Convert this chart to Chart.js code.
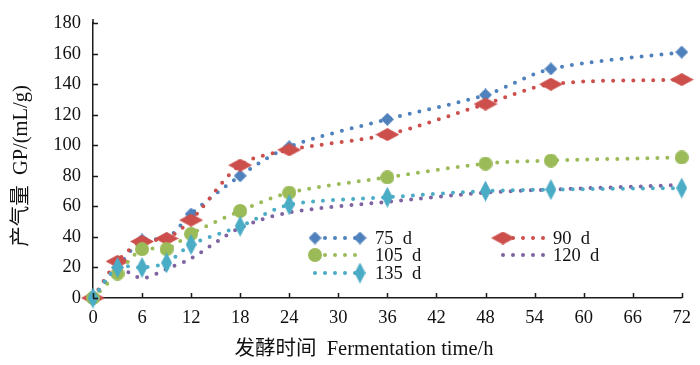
<!DOCTYPE html>
<html>
<head>
<meta charset="utf-8">
<script src="https://cdn.jsdelivr.net/npm/chart.js@4"></script>
<style>
  html, body { margin: 0; padding: 0; background: #fff; }
  #box { width: 700px; height: 365px; }
</style>
</head>
<body>
<div id="box"><canvas id="chart"></canvas></div>
<script>
// Sampling times (h) and cumulative gas production GP (mL/g)
const hours = [ 0, 3, 6, 9, 12, 18, 24, 36, 48, 56, 72 ];
const gp75 = [ 0, 20, 38, 39, 55, 80, 99, 117, 133, 150, 161 ];
const gp90 = [ 0, 24, 37, 39, 51, 87, 97, 107, 127, 140, 143 ];
const gp105 = [ 0, 16, 32, 32, 42, 57, 69, 79, 88, 90, 92 ];
const gp120 = [ 0, 19, 13, 19, 26, 46, 56, 63, 69, 71, 74 ];
const gp135 = [ 0, 20, 20, 23, 35, 47, 61, 66, 70, 71, 72 ];

const xTicks = [ 0, 6, 12, 18, 24, 30, 36, 42, 48, 54, 60, 66, 72 ];
const yTicks = [ 0, 20, 40, 60, 80, 100, 120, 140, 160, 180 ];

const BLUE = "#4f81bd";
const RED = "#cc4f4c";
const GREEN = "#9bbb59";
const PURPLE = "#8064a2";
const CYAN = "#4bacc6";

const SERIF = '"Liberation Serif", "Noto Sans CJK SC", serif';

function makeDiamond( w, h, color ) {
  let c = document.createElement( "canvas" );
  c.width = w;
  c.height = h;
  let ctx = c.getContext( "2d" );
  ctx.fillStyle = color;
  ctx.beginPath();
  ctx.moveTo( w / 2, 0 );
  ctx.lineTo( w, h / 2 );
  ctx.lineTo( w / 2, h );
  ctx.lineTo( 0, h / 2 );
  ctx.closePath();
  ctx.fill();
  return c;
}

function makeCircle( d, color ) {
  let c = document.createElement( "canvas" );
  c.width = d;
  c.height = d;
  let ctx = c.getContext( "2d" );
  ctx.fillStyle = color;
  ctx.beginPath();
  ctx.arc( d / 2, d / 2, d / 2, 0, Math.PI * 2 );
  ctx.fill();
  return c;
}

const blueMark = makeDiamond( 13, 13, BLUE );
const redMark = makeDiamond( 24, 13, RED );
const greenMark = makeCircle( 14, GREEN );
const cyanMark = makeDiamond( 11, 21, CYAN );

function series( label, values, color, mark, order ) {
  return {
    label: label,
    data: hours.map( ( h, i ) => ( { x: h, y: values[ i ] } ) ),
    borderColor: color,
    backgroundColor: color,
    borderWidth: 4,
    borderDash: [ 0, 10 ],
    borderCapStyle: "round",
    tension: 0.3,
    pointStyle: mark || "circle",
    pointRadius: mark ? 8 : 0,
    pointHoverRadius: mark ? 8 : 0,
    clip: false,
    order: order
  };
}

// Inward ticks, axis titles and the legend are drawn by hand
const decorations = {
  id: "decorations",
  afterDraw( chart ) {
    let ctx = chart.ctx;
    let xs = chart.scales.x;
    let ys = chart.scales.y;
    let area = chart.chartArea;

    ctx.save();
    ctx.strokeStyle = "#1a1a1a";
    ctx.lineWidth = 1.5;
    ctx.beginPath();
    xTicks.forEach( ( t ) => {
      let px = Math.round( xs.getPixelForValue( t ) ) + 0.5;
      ctx.moveTo( px, area.bottom );
      ctx.lineTo( px, area.bottom - 5 );
    } );
    yTicks.forEach( ( t ) => {
      let py = Math.round( ys.getPixelForValue( t ) ) + 0.5;
      ctx.moveTo( area.left, py );
      ctx.lineTo( area.left + 5, py );
    } );
    // axis line runs a little past the 180 tick
    ctx.moveTo( area.left, area.top );
    ctx.lineTo( area.left, area.top - 4 );
    ctx.stroke();

    // axis titles
    ctx.fillStyle = "#111";
    ctx.font = "20.5px " + SERIF;
    ctx.textAlign = "center";
    ctx.textBaseline = "middle";
    ctx.fillText( "发酵时间  Fermentation time/h", 364, 350 );

    ctx.translate( 22, 166 );
    ctx.rotate( -Math.PI / 2 );
    ctx.fillText( "产气量  GP/(mL/g)", 0, 0 );
    ctx.restore();

    // legend
    let rows = [
      { x0: 315, x1: 360, y: 238, color: BLUE, text: "75  d", marks: [ [ blueMark, 315 ], [ blueMark, 360 ] ] },
      { x0: 503, x1: 547, y: 238, color: RED, text: "90  d", marks: [ [ redMark, 503 ] ] },
      { x0: 315, x1: 358, y: 255, color: GREEN, text: "105  d", marks: [ [ greenMark, 315 ] ] },
      { x0: 503, x1: 547, y: 255, color: PURPLE, text: "120  d", marks: [] },
      { x0: 315, x1: 360, y: 273, color: CYAN, text: "135  d", marks: [ [ cyanMark, 360 ] ] }
    ];

    ctx.save();
    rows.forEach( ( row ) => {
      ctx.strokeStyle = row.color;
      ctx.lineWidth = 4;
      ctx.lineCap = "round";
      ctx.setLineDash( [ 0, 10 ] );
      ctx.beginPath();
      ctx.moveTo( row.x0, row.y );
      ctx.lineTo( row.x1, row.y );
      ctx.stroke();
      ctx.setLineDash( [] );

      row.marks.forEach( ( m ) => {
        ctx.drawImage( m[ 0 ], m[ 1 ] - m[ 0 ].width / 2, row.y - m[ 0 ].height / 2 );
      } );

      ctx.fillStyle = "#111";
      ctx.font = "18.5px " + SERIF;
      ctx.textAlign = "left";
      ctx.textBaseline = "middle";
      let textX = row.x1 > 400 ? 553 : 375;
      ctx.fillText( row.text, textX, row.y + 1 );
    } );
    ctx.restore();
  }
};

new Chart( document.getElementById( "chart" ), {
  type: "line",
  data: {
    datasets: [
      series( "75 d", gp75, BLUE, blueMark, 5 ),
      series( "90 d", gp90, RED, redMark, 4 ),
      series( "120 d", gp120, PURPLE, null, 3 ),
      series( "105 d", gp105, GREEN, greenMark, 2 ),
      series( "135 d", gp135, CYAN, cyanMark, 1 )
    ]
  },
  options: {
    responsive: true,
    maintainAspectRatio: false,
    animation: false,
    layout: { padding: { top: 13, right: 15, left: 0, bottom: 0 } },
    plugins: {
      legend: { display: false },
      tooltip: { enabled: false }
    },
    scales: {
      x: {
        type: "linear",
        min: 0,
        max: 72,
        afterFit: ( scale ) => { scale.height = 67; },
        afterBuildTicks: ( scale ) => { scale.ticks = xTicks.map( ( v ) => ( { value: v } ) ); },
        grid: { display: false, drawTicks: false },
        border: { display: true, color: "#1a1a1a", width: 1.5 },
        ticks: { padding: 9, color: "#111", font: { family: SERIF, size: 18.5 }, maxRotation: 0 }
      },
      y: {
        min: 0,
        max: 180,
        afterFit: ( scale ) => { scale.width = 93; },
        afterBuildTicks: ( scale ) => { scale.ticks = yTicks.map( ( v ) => ( { value: v } ) ); },
        grid: { display: false, drawTicks: false },
        border: { display: true, color: "#1a1a1a", width: 1.5 },
        ticks: { padding: 12, color: "#111", font: { family: SERIF, size: 18.5 } }
      }
    }
  },
  plugins: [ decorations ]
} );
</script>
</body>
</html>
